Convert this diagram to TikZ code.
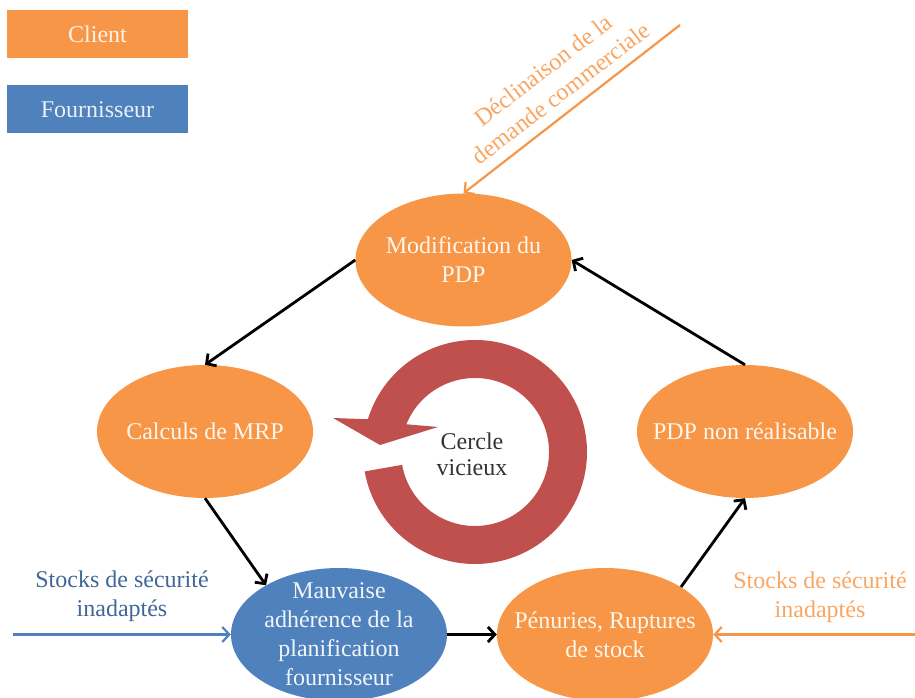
\documentclass[tikz,border=0pt]{standalone}
\usepackage{fontspec}
\setmainfont{Liberation Serif}
\usepackage{tikz}
\usetikzlibrary{arrows.meta}
\usetikzlibrary{shapes}
\usetikzlibrary{calc}
\definecolor{clientor}{HTML}{F79646}
\definecolor{fourblue}{HTML}{4F81BD}
\definecolor{vicious}{HTML}{C0504D}
\begin{document}
\begin{tikzpicture}[x=1pt, y=1pt, >={Straight Barb[length=7pt, width=15pt]},
        big/.style={font=\fontsize{24}{29}\selectfont, align=center},
        blob/.style={big, ellipse, inner xsep=-40pt, inner ysep=-20pt, minimum width=216pt, minimum height=133pt},
        cblob/.style={blob, fill=clientor, text=white!92!clientor},
        fblob/.style={blob, fill=fourblue, text=white!92!fourblue},
        legendbox/.style={big, minimum width=181pt, minimum height=48pt, inner sep=0pt},
        link/.style={->, line width=2.8pt, black},
        feed/.style={->, line width=2.2pt}]
        \useasboundingbox (0,0) rectangle (915,698);

        \node[legendbox, fill=clientor, text=white!88!clientor] (client) at (97.5,664) {Client};
        \node[legendbox, fill=fourblue, text=white!88!fourblue] (fourn) at (97.5,588.5) {Fournisseur};

        \node[cblob] (modif) at (463.5,438) {Modification du\\PDP};
        \node[cblob] (calc) at (205,266.5) {Calculs de MRP};
        \node[cblob] (pdp) at (745,266.5) {PDP non réalisable};
        \node[fblob] (mauv) at (339,63.5) {Mauvaise\\adhérence de la\\planification\\fournisseur};
        \node[cblob] (pen) at (605,63.5) {Pénuries, Ruptures\\de stock};

        \draw[link] (modif.west) -- (calc.north);
        \draw[link] (calc.south) -- (mauv.146);
        \draw[link] (mauv.east) -- (pen.west);
        \draw[link] (pen.32) -- (pdp.south);
        \draw[link] (pdp.north) -- (modif.east);

        \coordinate (rc) at (475,246);
        \fill[vicious] ($(rc)+(190:112)$) arc[start angle=190, end angle=523, radius=112]
            -- (333,280) -- (380,253) -- (438,271) -- ($(rc)+(518:74)$)
            arc[start angle=518, end angle=190, radius=74] -- cycle;
        \node[big, text=black!80, font=\fontsize{24}{26}\selectfont] (cercle) at (472,244) {Cercle\\vicieux};

        \coordinate (demsrc) at (680,673);
        \draw[feed, clientor] (demsrc) -- (modif.north);
        \node[big, rotate=37.5, text=clientor!85!white] (demtext) at (552,616.5) {Déclinaison de la\\demande commerciale};

        \coordinate (fsrc) at (13,63.5);
        \draw[feed, fourblue] (fsrc) -- (mauv.west);
        \node[big, text=fourblue!80!black] (fstock) at (122,102) {Stocks de sécurité\\inadaptés};

        \coordinate (csrc) at (915,63.5);
        \draw[feed, clientor] (csrc) -- (pen.east);
        \node[big, text=clientor!85!white] (cstock) at (820,101) {Stocks de sécurité\\inadaptés};
    \end{tikzpicture}
\end{document}
